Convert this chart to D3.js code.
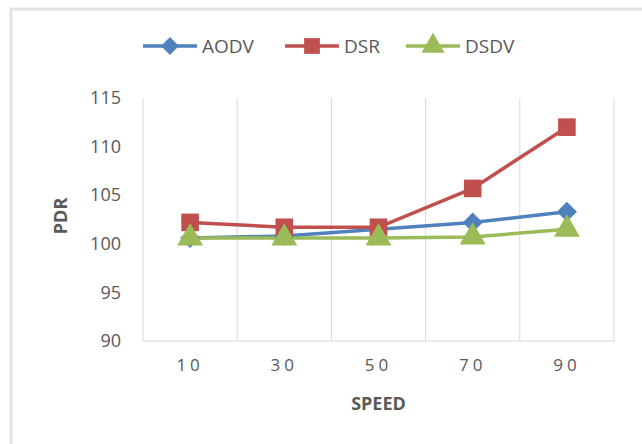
<!DOCTYPE html>
<html>
<head>
<meta charset="utf-8">
<script src="https://cdn.jsdelivr.net/npm/d3@7"></script>
<style>
  body { margin: 0; background: #fff; }
  svg text { font-family: "Open Sans", "Liberation Sans", sans-serif; fill: #595959; }
</style>
</head>
<body>
<svg id="chart" width="642" height="444"></svg>
<script>
const speeds = ['10', '30', '50', '70', '90'];
const aodv = [100.6, 100.8, 101.5, 102.2, 103.3];
const dsr = [102.2, 101.7, 101.7, 105.7, 112.0];
const dsdv = [100.6, 100.6, 100.6, 100.7, 101.5];
const yTicks = [90, 95, 100, 105, 110, 115];

// diamond = square turned 45 degrees (wider than d3.symbolDiamond)
const squareDiamond = {
  draw(ctx, size) {
    const r = Math.sqrt(size) / Math.SQRT2;
    ctx.moveTo(0, -r); ctx.lineTo(r, 0); ctx.lineTo(0, r); ctx.lineTo(-r, 0); ctx.closePath();
  }
};

const series = [
  {name: 'AODV', values: aodv, color: '#4f81bd', symbol: squareDiamond, size: 200},
  {name: 'DSR', values: dsr, color: '#c0504d', symbol: d3.symbolSquare, size: 310},
  {name: 'DSDV', values: dsdv, color: '#9bbb59', symbol: d3.symbolTriangle, size: 290}
];

const margin = {top: 98, right: 28, bottom: 103, left: 143},
  width = 642 - margin.left - margin.right,
  height = 444 - margin.top - margin.bottom;

const svg = d3.select('#chart');

// outer frame (top + left edges only visible)
svg.append('path')
  .attr('d', 'M11,444 L11,9 L642,9')
  .attr('fill', 'none')
  .attr('stroke', '#e3e3e3')
  .attr('stroke-width', 3);

const g = svg.append('g')
  .attr('transform', 'translate(' + margin.left + ',' + margin.top + ')');

const x = d3.scaleBand().domain(speeds).range([0, width]);
const y = d3.scaleLinear().domain([90, 115]).range([height, 0]);

// vertical gridlines at category boundaries
const bounds = speeds.map(s => x(s)).concat([width]);
g.selectAll('.grid').data(bounds).enter().append('line')
  .attr('x1', d => d).attr('x2', d => d)
  .attr('y1', 0).attr('y2', height)
  .attr('stroke', '#d9d9d9').attr('stroke-width', 1);

g.append('line')
  .attr('x1', 0).attr('x2', width)
  .attr('y1', height).attr('y2', height)
  .attr('stroke', '#d9d9d9');

const xAxis = g.append('g')
  .attr('transform', 'translate(0,' + height + ')')
  .call(d3.axisBottom(x).tickSize(0).tickPadding(18));
xAxis.select('.domain').remove();
xAxis.selectAll('text')
  .style('font-size', '17px').style('letter-spacing', '4px')
  .attr('fill', '#595959');

const yAxis = g.append('g')
  .call(d3.axisLeft(y).tickValues(yTicks).tickSize(0).tickPadding(22));
yAxis.select('.domain').remove();
yAxis.selectAll('text')
  .style('font-size', '18px').attr('fill', '#595959');

const line = d3.line()
  .x((d, i) => x(speeds[i]) + x.bandwidth() / 2)
  .y(d => y(d));

series.forEach(s => {
  g.append('path')
    .datum(s.values)
    .attr('fill', 'none')
    .attr('stroke', s.color)
    .attr('stroke-width', 3.5)
    .attr('d', line);
});

series.forEach(s => {
  g.selectAll(null).data(s.values).enter().append('path')
    .attr('d', d3.symbol().type(s.symbol).size(s.size))
    .attr('fill', s.color)
    .attr('transform', (d, i) => 'translate(' + (x(speeds[i]) + x.bandwidth() / 2) + ',' + y(d) + ')');
});

// axis titles
svg.append('text')
  .attr('x', margin.left + width / 2).attr('y', 410)
  .attr('text-anchor', 'middle')
  .style('font-size', '18px').style('font-weight', 'bold')
  .text('SPEED');

svg.append('text')
  .attr('transform', 'translate(67,216) rotate(-90)')
  .attr('text-anchor', 'middle')
  .style('font-size', '18px').style('font-weight', 'bold')
  .text('PDR');

// legend
const legendX = [143, 285, 406];
series.forEach((s, i) => {
  const lg = svg.append('g').attr('transform', 'translate(' + legendX[i] + ',46)');
  lg.append('line').attr('x1', 0).attr('x2', 54).attr('y1', 0).attr('y2', 0)
    .attr('stroke', s.color).attr('stroke-width', 3.5);
  lg.append('path')
    .attr('d', d3.symbol().type(s.symbol).size(s.size * 0.8))
    .attr('fill', s.color)
    .attr('transform', 'translate(27,0)');
  lg.append('text').attr('x', 59).attr('y', 7)
    .style('font-size', '19px')
    .text(s.name);
});
</script>
</body>
</html>
